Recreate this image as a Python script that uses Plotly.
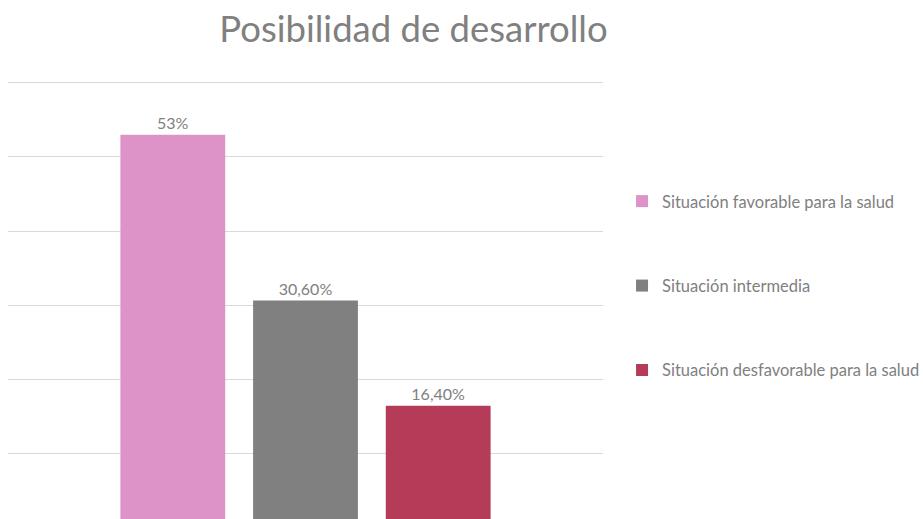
import plotly.graph_objects as go

series = ["Situación favorable para la salud", "Situación intermedia", "Situación desfavorable para la salud"]
values = [53, 30.6, 16.4]
labels = ["53%", "30,60%", "16,40%"]
colors = ["#dd93c8", "#808080", "#b53c58"]
category = [""]

FONT = "Lato"
GRAY = "#808080"

fig = go.Figure()
for name, v, lab, c in zip(series, values, labels, colors):
    fig.add_trace(go.Bar(
        x=category, y=[v], name=name, text=[lab], textposition="outside",
        textfont=dict(family=FONT, size=16, color=GRAY),
        marker=dict(color=c, line=dict(width=0)),
        legendgroup=name, cliponaxis=False,
    ))

fig.update_layout(
    width=923, height=519,
    margin=dict(l=8, r=320, t=80, b=0, autoexpand=False),
    paper_bgcolor="white", plot_bgcolor="white",
    barmode="group", bargap=0.331, bargroupgap=0.21,
    title=dict(text="Posibilidad de desarrollo", x=0.448, xref="container", xanchor="center",
               y=1 - 29 / 519, yref="container", yanchor="middle",
               font=dict(family=FONT, size=36.5, color=GRAY)),
    xaxis=dict(showticklabels=False, showgrid=False, zeroline=False, showline=False),
    yaxis=dict(range=[1.1, 60.4], dtick=10, showticklabels=False, showgrid=True,
               gridcolor="#d9d9d9", gridwidth=1, zeroline=False, showline=False),
    legend=dict(x=1.032, xanchor="left", y=0.531, yanchor="middle",
                font=dict(family=FONT, size=16.5, color=GRAY),
                tracegroupgap=60, itemclick=False),
)

fig.write_html("out.html", post_script="document.body.style.margin='0';",
               config={"displayModeBar": False})
